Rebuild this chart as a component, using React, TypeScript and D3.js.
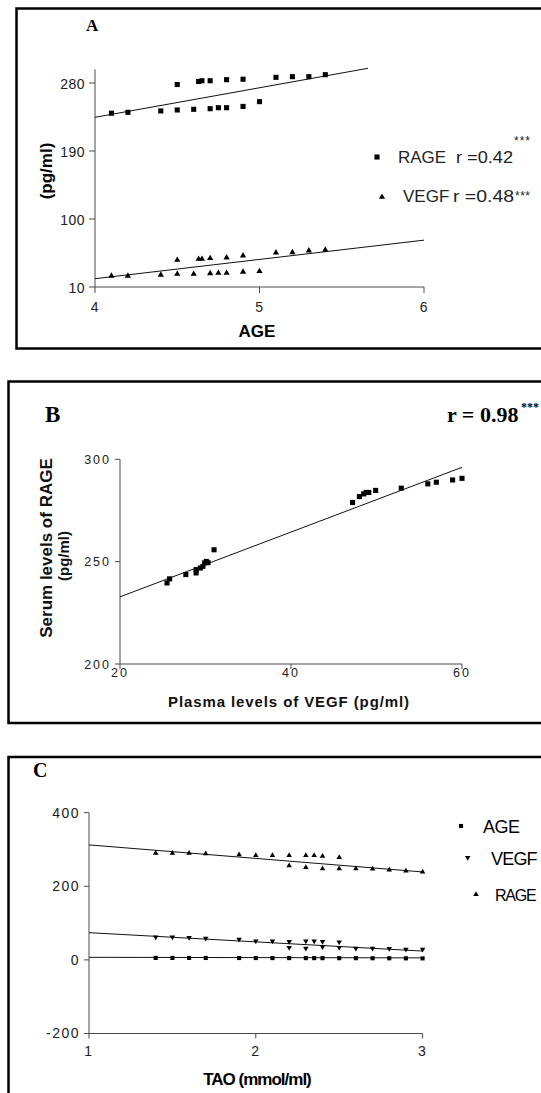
import React from 'react';
import * as d3 from 'd3';

const SANS = "'Liberation Sans', Arial, Helvetica, sans-serif";
const SERIF = "'Liberation Serif', 'Times New Roman', serif";
const AXIS = '#4a4a4a';

// panel A: AGE vs serum RAGE and plasma VEGF
const ageA = [4.5, 4.63, 4.65, 4.7, 4.8, 4.9, 5.1, 5.2, 5.3, 5.4, 4.1, 4.2, 4.4, 4.5, 4.6, 4.7, 4.75, 4.8, 4.9, 5.0];
const rageA = [278, 282, 283, 283, 284.4, 285, 287.5, 288.4, 288.4, 291, 240, 241.2, 243, 244.3, 245.2, 246, 247.3, 247.3, 249, 255.3];
const vegfA = [45.7, 47, 47, 48, 48.8, 51.4, 55.4, 55.9, 58, 59, 24.6, 24.6, 25.9, 27.2, 27.2, 28.1, 28.5, 28.5, 29.9, 30.8];
const rageFitA = [[4, 234.6], [5.66, 299.5]];
const vegfFitA = [[4, 21], [6, 72]];
const xTicksA = [4, 5, 6];
const yTicksA = [10, 100, 190, 280];
const yTopA = 298;

// panel B: plasma VEGF vs serum RAGE
const vegfB = [25.5, 25.8, 27.7, 28.9, 28.9, 29.4, 29.7, 29.9, 30.1, 30.3, 31.0, 47.2, 48.0, 48.5, 48.8, 49.1, 49.9, 52.9, 56.0, 57.0, 58.9, 60.0];
const rageB = [239.6, 241.6, 243.7, 244.5, 246.1, 246.9, 247.7, 249.4, 250.1, 249.5, 255.8, 278.9, 281.8, 283.1, 283.8, 283.8, 284.8, 285.9, 288.0, 288.8, 289.9, 290.7];
const fitB = [[20, 232.8], [60, 296.1]];
const xTicksB = [20, 40, 60];
const yTicksB = [200, 250, 300];

// panel C: TAO vs AGE, VEGF, RAGE
const taoAge = [1.4, 1.5, 1.6, 1.7, 1.9, 2.0, 2.1, 2.2, 2.3, 2.35, 2.4, 2.5, 2.6, 2.7, 2.8, 2.9, 3.0];
const ageC = [5.4, 5.3, 5.3, 5.2, 5.1, 5.0, 4.9, 4.9, 4.8, 4.8, 4.7, 4.7, 4.6, 4.5, 4.4, 4.2, 4.1];
const taoVR = [1.4, 1.5, 1.6, 1.7, 1.9, 2.0, 2.1, 2.2, 2.3, 2.35, 2.4, 2.5, 2.2, 2.3, 2.4, 2.5, 2.6, 2.7, 2.8, 2.9, 3.0];
const vegfC = [62.2, 62.2, 60.5, 58.6, 55.9, 51.4, 51.4, 49.6, 51.4, 51.4, 49.6, 48.7, 33.4, 31.6, 35.2, 33.4, 31.6, 31.6, 30.7, 28.9, 28.9];
const rageC = [290.3, 290.3, 290.3, 288.4, 285.7, 283.8, 283.8, 283.8, 283.8, 283.8, 282.2, 278.4, 255.9, 251.4, 247.8, 247.8, 247.8, 247, 244.3, 241.6, 238.9];
const ageFitC = [[1, 7], [3, 5.5]];
const vegfFitC = [[1, 74], [3, 24]];
const rageFitC = [[1, 312.5], [3, 239]];
const xTicksC = [1, 2, 3];
const yTicksC = [-200, 0, 200, 400];

const xA = d3.scaleLinear().domain([4, 6]).range([95, 424]);
const yA = d3.scaleLinear().domain([10, 280]).range([287, 83]);
const xB = d3.scaleLinear().domain([20, 60]).range([120, 462]);
const yB = d3.scaleLinear().domain([200, 300]).range([664, 459.3]);
const xC = d3.scaleLinear().domain([1, 3]).range([89, 422.6]);
const yC = d3.scaleLinear().domain([-200, 400]).range([1033.5, 812.7]);

const sqBig = d3.symbol(d3.symbolSquare, 26)() as string;
const sqSmall = d3.symbol(d3.symbolSquare, 17)() as string;
const triBig = d3.symbol(d3.symbolTriangle, 17)() as string;
const triSmall = d3.symbol(d3.symbolTriangle, 13)() as string;

function fitPath(pts: number[][], x: any, y: any) {
  return d3.line<number[]>().x(d => x(d[0])).y(d => y(d[1]))(pts) as string;
}

function Marks({ xs, ys, x, y, shape, flip }: any) {
  return (
    <g fill="#000">
      {xs.map((v: number, i: number) => (
        <path key={i} d={shape}
          transform={`translate(${x(v)},${y(ys[i])})${flip ? ' rotate(180)' : ''}`} />
      ))}
    </g>
  );
}

function Axes({ x, y, xTicks, yTicks, yTop, font, ls, yLabBase, xLabBase, tickLen }: any) {
  const [x0, x1] = x.range();
  const y0 = y.range()[0];
  return (
    <g>
      <line x1={x0} x2={x0} y1={y0} y2={y(yTop)} stroke={AXIS} />
      <line x1={x0} x2={x1} y1={y0} y2={y0} stroke={AXIS} />
      {yTicks.map((t: number) => (
        <g key={'y' + t}>
          <line x1={x0 - tickLen} x2={x0} y1={y(t)} y2={y(t)} stroke={AXIS} />
          <text x={x0 - tickLen - 4} y={y(t) + yLabBase} textAnchor="end"
            fontFamily={SANS} fontSize={font} fill="#222" style={{ letterSpacing: ls }}>{t}</text>
        </g>
      ))}
      {xTicks.map((t: number) => (
        <g key={'x' + t}>
          <line x1={x(t)} x2={x(t)} y1={y0} y2={y0 + tickLen} stroke={AXIS} />
          <text x={x(t)} y={xLabBase} textAnchor="middle"
            fontFamily={SANS} fontSize={font} fill="#222" style={{ letterSpacing: ls }}>{t}</text>
        </g>
      ))}
    </g>
  );
}

export default function App() {
  return (
    <div style={{ position: 'absolute', left: 0, top: 0, background: '#fff' }}>
      <svg width={541} height={1093} style={{ display: 'block' }}>
        <rect width={541} height={1093} fill="#fff" />

        {/* ---- panel A ---- */}
        <rect x={16.5} y={8.5} width={540} height={340} fill="none" stroke="#000" strokeWidth={2.5} />
        <text x={86} y={31} fontFamily={SERIF} fontWeight="bold" fontSize={17}>A</text>
        <Axes x={xA} y={yA} xTicks={xTicksA} yTicks={yTicksA} yTop={yTopA} font={14} ls="0.5px"
          yLabBase={6} xLabBase={311.5} tickLen={6} />
        <path d={fitPath(rageFitA, xA, yA)} fill="none" stroke="#111" strokeWidth={1} />
        <path d={fitPath(vegfFitA, xA, yA)} fill="none" stroke="#111" strokeWidth={1} />
        <Marks xs={ageA} ys={rageA} x={xA} y={yA} shape={sqBig} />
        <Marks xs={ageA} ys={vegfA} x={xA} y={yA} shape={triBig} />
        <text x={257} y={337} textAnchor="middle" fontFamily={SANS} fontWeight="bold" fontSize={17}>AGE</text>
        <text transform="translate(52,171) rotate(-90)" textAnchor="middle" fontFamily={SANS}
          fontWeight="bold" fontSize={17}>(pg/ml)</text>
        <path d={sqBig} transform="translate(377,157)" />
        <text x={398} y={163} fontFamily={SANS} fontSize={17} fill="#222">RAGE</text>
        <text x={456} y={163} fontFamily={SANS} fontSize={17} fill="#222" textLength={57}
          lengthAdjust="spacingAndGlyphs">r =0.42</text>
        <text x={514} y={145} fontFamily={SANS} fontSize={12} fill="#222" style={{ letterSpacing: '1px' }}>***</text>
        <path d={triBig} transform="translate(382,197)" />
        <text x={403} y={202} fontFamily={SANS} fontSize={17} fill="#222">VEGF</text>
        <text x={453} y={202} fontFamily={SANS} fontSize={17} fill="#222" textLength={61}
          lengthAdjust="spacingAndGlyphs">r =0.48</text>
        <text x={515} y={200} fontFamily={SANS} fontSize={12} fill="#222" style={{ letterSpacing: '0.5px' }}>***</text>

        {/* ---- panel B ---- */}
        <rect x={8.5} y={381.5} width={540} height={341.5} fill="none" stroke="#000" strokeWidth={2.5} />
        <text x={45} y={421.7} fontFamily={SERIF} fontWeight="bold" fontSize={23}>B</text>
        <text x={447} y={421.7} fontFamily={SERIF} fontWeight="bold" fontSize={22}>r = 0.98</text>
        <text x={521} y={411} fontFamily={SERIF} fontWeight="bold" fontSize={12} fill="#000">***</text>
        <Axes x={xB} y={yB} xTicks={xTicksB} yTicks={yTicksB} yTop={300} font={12.5} ls="2px"
          yLabBase={4.5} xLabBase={677} tickLen={5} />
        <path d={fitPath(fitB, xB, yB)} fill="none" stroke="#111" strokeWidth={1} />
        <Marks xs={vegfB} ys={rageB} x={xB} y={yB} shape={sqBig} />
        <text x={289} y={707} textAnchor="middle" fontFamily={SANS} fontWeight="bold" fontSize={15}
          fill="#111" style={{ letterSpacing: '0.9px' }}>Plasma levels of VEGF (pg/ml)</text>
        <text transform="translate(52,548) rotate(-90)" textAnchor="middle" fontFamily={SANS}
          fontWeight="bold" fontSize={17} fill="#111">Serum levels of RAGE</text>
        <text transform="translate(69,556) rotate(-90)" textAnchor="middle" fontFamily={SANS}
          fontWeight="bold" fontSize={15} fill="#111">(pg/ml)</text>

        {/* ---- panel C ---- */}
        <rect x={8.5} y={757} width={540} height={400} fill="none" stroke="#000" strokeWidth={2.5} />
        <text x={33} y={777} fontFamily={SERIF} fontWeight="bold" fontSize={20}>C</text>
        <Axes x={xC} y={yC} xTicks={xTicksC} yTicks={yTicksC} yTop={400} font={14} ls="1.5px"
          yLabBase={4.8} xLabBase={1056} tickLen={5} />
        <path d={fitPath(rageFitC, xC, yC)} fill="none" stroke="#111" strokeWidth={1} />
        <path d={fitPath(vegfFitC, xC, yC)} fill="none" stroke="#111" strokeWidth={1} />
        <path d={fitPath(ageFitC, xC, yC)} fill="none" stroke="#111" strokeWidth={1} />
        <Marks xs={taoAge} ys={ageC} x={xC} y={yC} shape={sqSmall} />
        <Marks xs={taoVR} ys={vegfC} x={xC} y={yC} shape={triSmall} flip />
        <Marks xs={taoVR} ys={rageC} x={xC} y={yC} shape={triSmall} />
        <text x={257} y={1085} textAnchor="middle" fontFamily={SANS} fontWeight="bold" fontSize={17}
          style={{ letterSpacing: '-1px' }}>TAO (mmol/ml)</text>
        <path d={sqSmall} transform="translate(461,826)" />
        <text x={483} y={833} fontFamily={SANS} fontSize={18} style={{ letterSpacing: '-0.5px' }}>AGE</text>
        <path d={triSmall} transform="translate(467.7,857.7) rotate(180)" />
        <text x={491} y={865} fontFamily={SANS} fontSize={18} style={{ letterSpacing: '-0.8px' }}>VEGF</text>
        <path d={triSmall} transform="translate(476,894.3)" />
        <text x={495} y={901} fontFamily={SANS} fontSize={16} style={{ letterSpacing: '-1.2px' }}>RAGE</text>
      </svg>
    </div>
  );
}
